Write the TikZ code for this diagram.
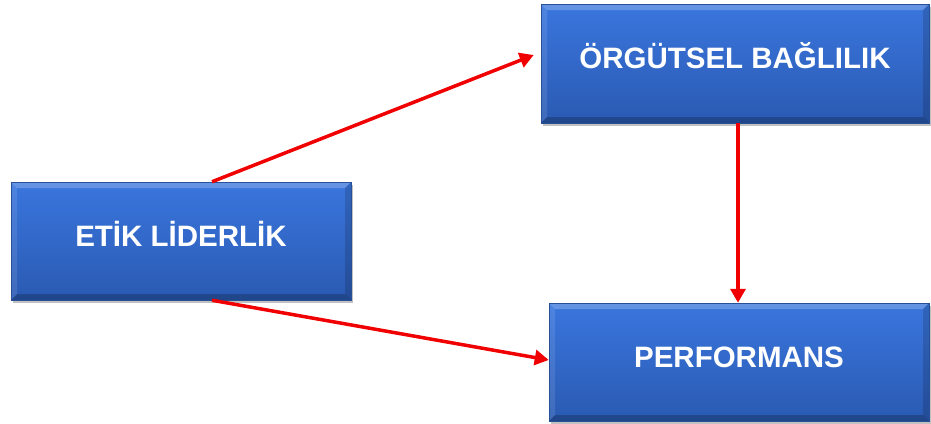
\documentclass[tikz,border=0pt]{standalone}
\usepackage{fontspec}
\setmainfont{Liberation Sans}
\usetikzlibrary{arrows.meta,shadows,calc}

\definecolor{facetop}{RGB}{58,118,222}
\definecolor{facebot}{RGB}{42,90,178}
\definecolor{boxedge}{RGB}{40,80,150}
\definecolor{arrowred}{RGB}{240,0,0}

\tikzset{
  box/.style={
    rectangle, inner sep=0pt, text height=22pt, text depth=12pt,
    top color=facetop, bottom color=facebot,
    draw=boxedge, line width=0.5pt,
    text=white, font=\bfseries\fontsize{29.5}{34}\selectfont,
    drop shadow={shadow xshift=2pt, shadow yshift=-2.5pt, opacity=0.35, fill=black!70},
    path picture={
      \coordinate (sw) at (path picture bounding box.south west);
      \coordinate (ne) at (path picture bounding box.north east);
      % bevelled rim: light on top and left, dark on right and bottom
      \fill[white, opacity=0.22] (sw|-ne) -- (ne) -- ($(ne)+(-6pt,-6pt)$) -- ($(sw|-ne)+(6pt,-6pt)$) -- cycle;
      \fill[white, opacity=0.10] (sw) -- (sw|-ne) -- ($(sw|-ne)+(6pt,-6pt)$) -- ($(sw)+(6pt,6pt)$) -- cycle;
      \fill[black, opacity=0.15] (ne) -- (ne|-sw) -- ($(ne|-sw)+(-6pt,6pt)$) -- ($(ne)+(-6pt,-6pt)$) -- cycle;
      \fill[black, opacity=0.22] (sw) -- (ne|-sw) -- ($(ne|-sw)+(-6pt,6pt)$) -- ($(sw)+(6pt,6pt)$) -- cycle;
    }
  },
  link/.style={draw=arrowred, line width=3.5pt,
    -{Triangle[length=14pt, width=15pt]}}
}

\begin{document}
\begin{tikzpicture}[x=1pt, y=-1pt]
  \useasboundingbox (0,0) rectangle (931,423);

  \node[box, minimum width=340pt, minimum height=118pt] (etik) at (181,241) {ETİK LİDERLİK};
  \node[box, minimum width=388pt, minimum height=119pt] (orgut) at (735,63.5) {ÖRGÜTSEL BAĞLILIK};
  \node[box, minimum width=380pt, minimum height=118pt] (perf) at (739,362) {PERFORMANS};

  \draw[link] ([xshift=31pt]etik.north) -- ([shift={(-7pt,8.5pt)}]orgut.west);
  \draw[link] ([xshift=31pt]etik.south) -- ([yshift=2pt]perf.west);
  \draw[link] ([xshift=3pt]orgut.south) -- ([xshift=-1pt]perf.north);
\end{tikzpicture}
\end{document}
